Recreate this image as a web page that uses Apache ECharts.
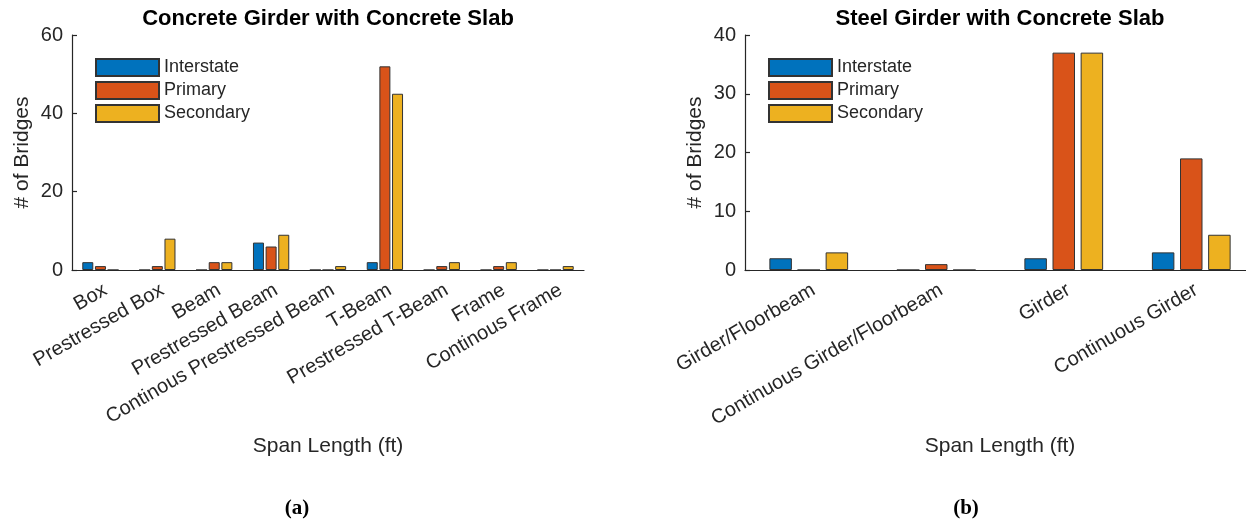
<!DOCTYPE html>
<html>
<head>
<meta charset="utf-8">
<script src="https://cdn.jsdelivr.net/npm/echarts@6/dist/echarts.min.js"></script>
<style>
html,body{margin:0;padding:0;background:#fff;}
#chart{width:1246px;height:521px;}
</style>
</head>
<body>
<div id="chart"></div>
<script>
// ---- data ----
const seriesNames = ['Interstate', 'Primary', 'Secondary'];
const catsA = ['Box', 'Prestressed Box', 'Beam', 'Prestressed Beam', 'Continous Prestressed Beam', 'T-Beam', 'Prestressed T-Beam', 'Frame', 'Continous Frame'];
const interstateA = [2, 0, 0, 7, 0, 2, 0, 0, 0];
const primaryA = [1, 1, 2, 6, 0, 52, 1, 1, 0];
const secondaryA = [0, 8, 2, 9, 1, 45, 2, 2, 1];
const catsB = ['Girder/Floorbeam', 'Continuous Girder/Floorbeam', 'Girder', 'Continuous Girder'];
const interstateB = [2, 0, 2, 3];
const primaryB = [0, 1, 37, 19];
const secondaryB = [3, 0, 37, 6];
const yRangeA = [0, 60, 20];
const yRangeB = [0, 40, 10];
const titleA = 'Concrete Girder with Concrete Slab';
const titleB = 'Steel Girder with Concrete Slab';
const xName = 'Span Length (ft)';
const yName = '# of Bridges';
const captions = ['(a)', '(b)'];

// ---- styling ----
const FONT = '"Liberation Sans", Arial, sans-serif';
const TXT = '#262626';
const colors = ['#0072BD', '#D95319', '#EDB120'];

function xAxisCfg(gridIndex, cats) {
  return {
    type: 'category', gridIndex: gridIndex, data: cats, z: 5,
    name: xName, nameLocation: 'middle', nameGap: 166,
    nameTextStyle: { fontFamily: FONT, fontSize: 21, color: TXT },
    axisLine: { lineStyle: { color: TXT, width: 1.2 } },
    axisTick: { inside: true, alignWithLabel: true, length: 5, lineStyle: { color: TXT, width: 1.2 } },
    axisLabel: { interval: 0, rotate: 30, margin: 10, align: 'right', verticalAlign: 'top',
      fontFamily: FONT, fontSize: 20, color: TXT },
    splitLine: { show: false }
  };
}
function yAxisCfg(gridIndex, r) {
  return {
    type: 'value', gridIndex: gridIndex, min: r[0], max: r[1], interval: r[2], z: 5,
    name: yName, nameLocation: 'middle', nameGap: 39,
    nameTextStyle: { fontFamily: FONT, fontSize: 21, color: TXT },
    axisLine: { show: true, lineStyle: { color: TXT, width: 1.2 } },
    axisTick: { show: true, inside: true, length: 5, lineStyle: { color: TXT, width: 1.2 } },
    axisLabel: { margin: 9, fontFamily: FONT, fontSize: 20, color: TXT },
    splitLine: { show: false }
  };
}
function barSeries(name, data, idx, axisIdx, bw, gap) {
  return {
    type: 'bar', name: name, data: data, xAxisIndex: axisIdx, yAxisIndex: axisIdx,
    barWidth: bw, barGap: gap,
    itemStyle: { color: colors[idx], borderColor: '#333', borderWidth: 1 },
    emphasis: { disabled: true }, animation: false
  };
}
function legendCfg(left) {
  return {
    data: seriesNames, orient: 'vertical', left: left, top: 58, padding: 0,
    icon: 'rect', itemWidth: 63, itemHeight: 17, itemGap: 4,
    textStyle: { fontFamily: FONT, fontSize: 18, color: TXT, lineHeight: 18 },
    selectedMode: false
  };
}

const chart = echarts.init(document.getElementById('chart'), null, { renderer: 'canvas' });
chart.setOption({
  backgroundColor: '#fff',
  animation: false,
  title: [
    { text: titleA, left: 328, top: 8, textAlign: 'center', padding: 0,
      textStyle: { fontFamily: FONT, fontSize: 22, fontWeight: 'bold', color: '#000' } },
    { text: titleB, left: 1000, top: 8, textAlign: 'center', padding: 0,
      textStyle: { fontFamily: FONT, fontSize: 22, fontWeight: 'bold', color: '#000' } },
    { text: captions[0], left: 297, top: 498, textAlign: 'center', padding: 0,
      textStyle: { fontFamily: '"Liberation Serif", "Times New Roman", serif', fontSize: 21, fontWeight: 'bold', color: '#000' } },
    { text: captions[1], left: 966, top: 498, textAlign: 'center', padding: 0,
      textStyle: { fontFamily: '"Liberation Serif", "Times New Roman", serif', fontSize: 21, fontWeight: 'bold', color: '#000' } }
  ],
  legend: [legendCfg(95), legendCfg(768)],
  grid: [
    { left: 72, top: 35, width: 512, height: 235, outerBoundsMode: 'none', containLabel: false },
    { left: 745, top: 35, width: 510, height: 235, outerBoundsMode: 'none', containLabel: false }
  ],
  xAxis: [xAxisCfg(0, catsA), xAxisCfg(1, catsB)],
  yAxis: [yAxisCfg(0, yRangeA), yAxisCfg(1, yRangeB)],
  series: [
    barSeries(seriesNames[0], interstateA, 0, 0, 11, '15%'),
    barSeries(seriesNames[1], primaryA, 1, 0, 11, '15%'),
    barSeries(seriesNames[2], secondaryA, 2, 0, 11, '15%'),
    barSeries(seriesNames[0], interstateB, 0, 1, 22.5, '25%'),
    barSeries(seriesNames[1], primaryB, 1, 1, 22.5, '25%'),
    barSeries(seriesNames[2], secondaryB, 2, 1, 22.5, '25%')
  ]
});
</script>
</body>
</html>
